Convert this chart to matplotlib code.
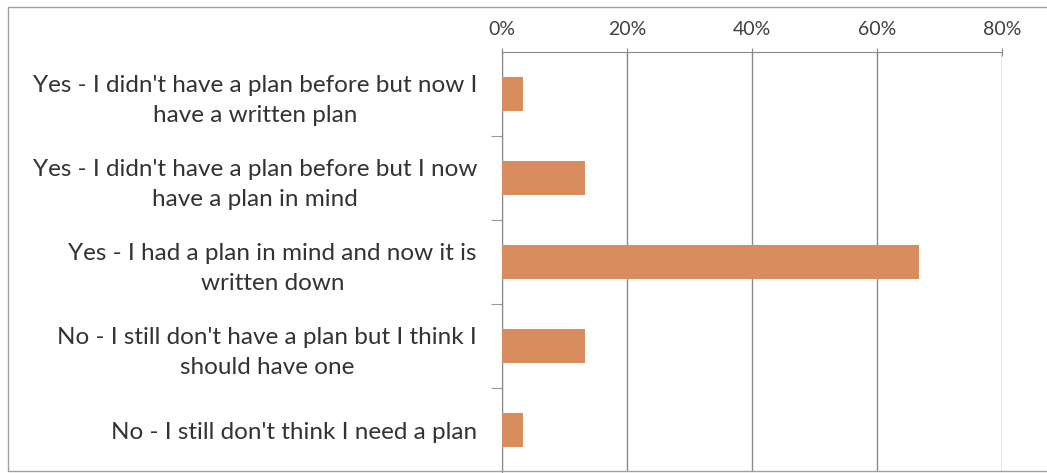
import matplotlib.pyplot as plt
from matplotlib.patches import Rectangle
from matplotlib.ticker import FuncFormatter

categories = [
    "Yes - I didn't have a plan before but now I\nhave a written plan",
    "Yes - I didn't have a plan before but I now\nhave a plan in mind",
    "Yes - I had a plan in mind and now it is\nwritten down",
    "No - I still don't have a plan but I think I\nshould have one",
    "No - I still don't think I need a plan",
]
percent = [3.3, 13.3, 66.7, 13.3, 3.3]
x_ticks = [0, 20, 40, 60, 80]

plt.rcParams['font.family'] = ['Lato', 'DejaVu Sans']

fig = plt.figure(figsize=(10.47, 4.73), dpi=100)
ax = fig.add_axes([502 / 1047, 1 / 473, 500 / 1047, 420 / 473])

pos = list(range(len(categories)))
ax.barh(pos, percent, height=0.4, color='#D98D5E', zorder=3)

ax.set_ylim(len(categories) - 0.5, -0.5)
ax.set_xlim(0, 80)

ax.xaxis.tick_top()
ax.set_xticks(x_ticks)
ax.xaxis.set_major_formatter(FuncFormatter(lambda v, p: f'{v:.0f}%'))
ax.tick_params(axis='x', direction='inout', length=6, width=0.8,
               color='#888888', pad=7, labelsize=14, labelcolor='#404040')
ax.grid(axis='x', color='#8a8a8a', linewidth=1.0, zorder=0)

# category ticks sit between the bars
ax.set_yticks([p + 0.5 for p in pos[:-1]], minor=True)
ax.set_yticks(pos)
ax.set_yticklabels(categories, multialignment='center', linespacing=1.5)
ax.tick_params(axis='y', which='major', length=0, pad=18,
               labelsize=17.5, labelcolor='#333333')
ax.tick_params(axis='y', which='minor', length=8, width=0.8, color='#999999')

for side in ['right', 'bottom']:
    ax.spines[side].set_visible(False)
ax.spines['left'].set_color('#888888')
ax.spines['top'].set_color('#888888')

# outer chart border (right edge is off the scan)
fig.patches.append(Rectangle((8 / 1047, 2 / 473), 1.1, 464 / 473,
                             transform=fig.transFigure, fill=False,
                             edgecolor='#a0a0a0', linewidth=1.0))

fig.savefig('out.png', dpi=100)
